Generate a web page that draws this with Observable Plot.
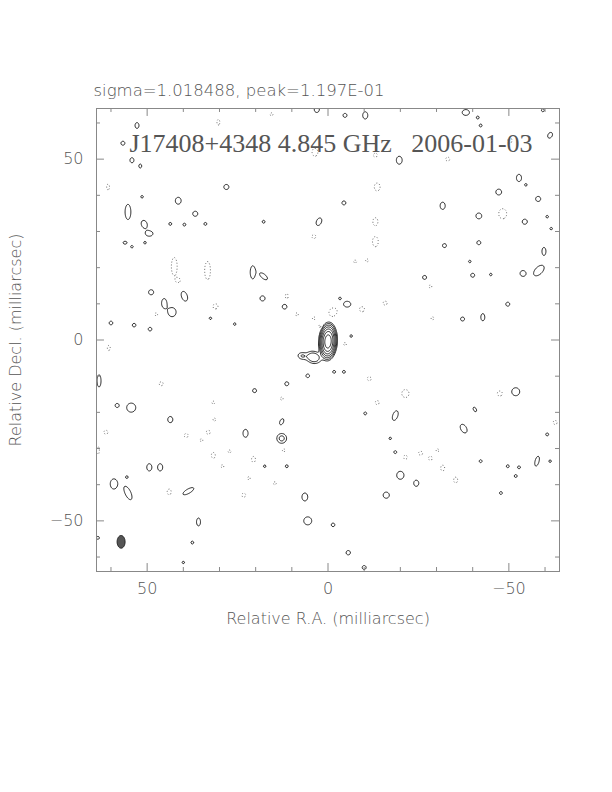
<!DOCTYPE html>
<html><head><meta charset="utf-8">
<script src="https://cdn.jsdelivr.net/npm/d3@7"></script>
<script src="https://cdn.jsdelivr.net/npm/@observablehq/plot@0.6"></script>
<style>
body{margin:0;background:#fff;}
svg text{white-space:pre;}
</style>
</head><body><div id="chart"></div>
<script>
// ---------- text ----------
const titleText = "J17408+4348 4.845 GHz   2006-01-03";
const subtitleText = "sigma=1.018488, peak=1.197E-01";
const xLabelText = "Relative R.A. (milliarcsec)";
const yLabelText = "Relative Decl. (milliarcsec)";
const majorTicks = [50, 0, -50];
const minorTicks = [60, 40, 30, 20, 10, -10, -20, -30, -40, -60];
const extent = 64;                       // map half-size, mas
const contourLevels = [1, 2, 4, 8, 16, 32, 64]; // multiples of lowest contour
const negativeLevels = [1];

// ---------- source components (mas, peak in units of lowest contour) ----------
const srcX   = [0.0, 4.0, 7.2];
const srcY   = [-0.4, -4.8, -4.4];
const srcAmp = [110, 4, 2.0];
const srcA   = [1.75, 1.3, 0.9];  // sigma along PA
const srcB   = [0.85, 1.0, 0.7];  // sigma across PA
const srcPA  = [-3, 75, 80];

// ---------- positive noise contours: centre, semi-axes (mas), PA (deg) ----------
const posX = [52.8,56.7,54.2,51.9,3.1,-4.7,-10.3,-38.1,-41.4,-42.2,-61.4,-59.4,-19.7,28.1,55.3,50.8,49.4,41.4,36.7,43.6,39.7,33.9,17.8,56.1,54.2,50.6,20.8,17.8,48.9,39.7,45.3,43.1,18.1,12.0,60.0,53.6,49.2,32.5,25.8,51.4,-52.8,-54.7,-47.2,-58.1,-4.4,-31.7,2.5,-41.7,-54.4,-60.6,-61.7,-32.2,-41.7,-59.7,-58.3,-53.9,-40.0,-45.0,-26.7,-39.2,-5.3,-3.3,-49.7,-42.8,-37.2,54.4,58.3,43.6,20.3,11.4,22.8,12.8,12.8,49.4,46.4,59.2,55.3,38.6,11.4,17.5,55.6,-51.9,-40.6,-18.6,-10.3,-37.5,-60.6,-18.6,-42.2,-49.7,-52.8,-57.8,-61.4,-51.9,-20.0,-24.4,-16.1,-47.8,-17.2,-10.0,63.3,35.8,37.5,40.0,63.6,-1.7,-4.4,5.6,-6.4,6.4,5.6,-1.4,-5.6];
const posY = [59.3,54.4,49.7,48.1,63.7,62.1,62.1,62.9,61.5,59.3,56.6,63.5,49.7,42.3,35.4,32.0,29.4,38.5,34.9,32.1,31.9,32.1,32.7,26.9,25.8,26.9,18.7,17.6,13.2,12.1,10.2,7.7,11.5,9.2,4.7,4.1,3.0,6.0,4.4,39.6,44.8,42.9,40.9,39.0,37.9,37.1,32.7,34.3,32.7,34.1,30.8,26.1,26.9,24.5,19.2,18.4,17.9,18.1,17.3,21.7,9.9,11.5,9.9,6.3,5.8,-18.7,-18.1,-22.0,-14.0,-12.1,-25.8,-22.6,-27.2,-35.2,-35.2,-39.8,-42.3,-41.8,-34.9,-34.9,-37.9,-14.3,-19.2,-20.9,-20.3,-24.5,-26.1,-31.0,-33.5,-34.9,-35.2,-33.5,-33.5,-37.6,-37.4,-39.6,-42.9,-42.3,-27.2,-62.9,-11.3,-50.3,-56.0,-61.5,-54.7,-8.8,-8.8,-9.9,1.1,-43.4,-50.0,-51.1,-58.8];
const posA = [0.8,0.55,0.7,0.55,0.8,0.55,1.0,0.8,0.4,0.4,0.85,0.4,1.1,0.7,2.1,1.1,0.7,0.95,0.7,0.4,0.4,0.4,0.4,0.4,0.35,0.35,1.8,1.3,0.7,1.4,1.25,1.25,0.7,0.65,0.5,0.5,0.5,0.35,0.35,0.35,1.0,0.35,0.8,0.7,0.55,1.0,1.1,0.8,0.7,0.35,0.35,0.55,0.55,1.1,1.8,0.8,0.55,0.35,0.55,0.35,0.8,0.35,0.55,1.0,0.55,1.25,0.55,0.85,0.55,0.55,1.1,0.9,1.35,1.0,1.0,1.4,2.0,1.7,0.4,0.35,0.35,1.1,0.7,1.4,0.4,1.3,0.4,0.4,0.4,0.4,0.4,1.4,0.35,0.4,1.1,0.85,0.85,0.4,0.35,0.55,1.7,1.1,0.4,0.35,0.4,0.4,0.4,0.5,0.35,1.1,1.1,0.5,0.6];
const posB = [0.55,0.55,0.55,0.4,0.7,0.55,0.7,1.0,0.4,0.4,0.6,0.4,0.8,0.7,0.8,0.8,1.0,0.8,0.7,0.4,0.4,0.4,0.4,0.55,0.35,0.35,0.7,0.6,0.7,0.8,0.7,1.1,0.7,0.65,0.5,0.5,0.5,0.35,0.35,0.35,0.7,0.35,0.8,0.7,0.55,0.7,0.7,0.8,0.7,0.35,0.35,0.55,0.55,0.55,1.0,0.8,0.55,0.35,0.55,0.35,1.0,0.35,0.55,0.55,0.55,1.25,0.55,0.7,0.55,0.55,0.7,0.5,1.35,0.7,0.7,1.0,0.8,0.6,0.4,0.35,0.35,1.1,0.4,0.7,0.4,0.8,0.4,0.4,0.4,0.4,0.4,0.55,0.35,0.4,1.0,0.7,0.85,0.4,0.35,0.55,0.55,0.55,0.4,0.35,0.4,0.4,0.4,0.5,0.35,0.8,1.1,0.5,0.6];
const posPA = [0,0,0,0,0,0,0,0,0,0,-30,0,0,0,0,20,0,0,0,0,0,0,0,0,0,0,0,50,0,20,0,0,0,0,0,0,0,0,0,0,0,0,0,0,0,0,-25,0,0,0,0,0,0,0,-45,0,0,0,0,0,0,0,0,0,0,0,0,0,0,0,0,-25,0,0,0,0,25,-60,0,0,0,0,30,-20,0,30,0,0,0,0,0,-15,0,0,0,0,0,0,0,0,0,0,0,0,0,0,0,0,0,0,0,0,0];
const posAmp = posX.map((_, i) => i === 72 ? 2.6 : 1.6);

// ---------- negative noise contours (drawn dotted) ----------
const negX = [60.8,42.5,33.3,41.4,31.1,47.5,-13.6,-13.1,-13.1,-48.3,-1.7,-9.4,-15.8,3.9,-28.3,-21.4,-13.6,-30.3,-28.3,-31.7,-35.3,-47.5,-62.8,-21.4,-25.6,46.1,31.7,31.4,33.1,39.2,35.0,31.7,27.2,20.6,29.2,43.9,23.3,14.7,21.9,12.8,12.2,61.4,30.3,15.6,-50.3,3.6,-13.1,-33.1,60.6,63.6,-7.5,-10.8,3.9,-28.9,8.6,2.2,-1.1,-4.7,11.4,-11.4];
const negY = [42.3,20.3,19.2,16.5,9.3,7.1,42.3,32.7,27.2,34.9,8.0,8.5,10.2,28.6,14.8,-14.8,-17.3,-30.5,-32.7,-35.4,-38.7,-14.8,-22.8,-32.4,-31.3,-12.1,-17.3,-22.0,-25.5,-26.4,-27.7,-31.9,-30.8,-33.0,-34.9,-42.0,-42.9,-39.6,-38.2,-16.2,-30.5,-25.5,60.2,62.4,55.2,51.9,51.1,50.0,-2.2,-30.5,21.7,22.0,6.0,6.0,7.1,3.8,7.4,-1.1,12.1,-10.7];
const negA = [0.8,2.5,2.5,0.55,0.7,0.4,1.1,1.1,1.4,1.4,0.7,0.7,0.55,0.55,0.4,1.1,0.55,0.4,0.55,0.8,0.8,0.7,0.55,0.55,0.55,0.55,0.4,0.4,0.55,0.55,0.4,0.8,0.4,0.8,0.4,0.8,0.55,0.4,0.4,0.4,0.4,0.55,0.8,0.4,0.8,1.1,0.55,0.55,0.7,1.1,0.4,0.4,0.4,0.4,0.4,0.4,0.8,0.4,0.7,0.55];
const negB = [0.4,0.8,0.8,0.55,0.7,0.4,0.8,0.7,0.8,1.1,0.7,0.7,0.55,0.55,0.4,1.0,0.55,0.4,0.55,0.55,0.55,0.7,0.55,0.55,0.55,0.55,0.4,0.4,0.55,0.55,0.4,0.55,0.4,0.55,0.4,0.55,0.55,0.4,0.4,0.4,0.4,0.55,0.4,0.4,0.55,0.8,0.55,0.55,0.4,0.4,0.4,0.4,0.4,0.4,0.4,0.4,0.7,0.4,0.4,0.55];
const negAmp = 1.6;

// ---------- restoring beam (FWHM semi-axes, mas) ----------
const beamX = [57.2];
const beamY = [-55.8];
const beamMaj = [1.75];
const beamMin = [1.1];
const beamPA = [0];

// ---------- tick mark lengths (mas) ----------
const majorTickLen = 2.2;
const minorTickLen = 1.1;

// ---------- build images on a grid ----------
const N = 512, step = 2 * extent / N;
function splat(g, x, y, amp, sa, sb, pa) {
  const t = pa * Math.PI / 180, s = Math.sin(t), c = Math.cos(t);
  const rad = 4.5 * Math.max(sa, sb);
  const i0 = Math.max(0, Math.floor((extent - (x + rad)) / step));
  const i1 = Math.min(N - 1, Math.ceil((extent - (x - rad)) / step));
  const j0 = Math.max(0, Math.floor((extent - (y + rad)) / step));
  const j1 = Math.min(N - 1, Math.ceil((extent - (y - rad)) / step));
  for (let j = j0; j <= j1; j++) {
    const Y = extent - (j + 0.5) * step, dy = Y - y;
    for (let i = i0; i <= i1; i++) {
      const X = extent - (i + 0.5) * step, dx = X - x;
      const u = dx * s + dy * c, v = dx * c - dy * s;
      g[j * N + i] += amp * Math.exp(-0.5 * (u * u / (sa * sa) + v * v / (sb * sb)));
    }
  }
}
const img = new Float64Array(N * N);
srcX.forEach((x, i) => splat(img, x, srcY[i], srcAmp[i], srcA[i], srcB[i], srcPA[i]));
posX.forEach((x, i) => {
  const kk = Math.sqrt(2 * Math.log(posAmp[i]));
  splat(img, x, posY[i], posAmp[i], posA[i] / kk, posB[i] / kk, posPA[i]);
});
const kn = Math.sqrt(2 * Math.log(negAmp));
negX.forEach((x, i) => splat(img, x, negY[i], -negAmp, negA[i] / kn, negB[i] / kn, 0));
const posGrid = Array.from(img);
const negGrid = posGrid.map(v => -v);
const beamImg = new Float64Array(N * N);
const kb = Math.sqrt(2 * Math.log(2));
beamX.forEach((x, i) => splat(beamImg, x, beamY[i], 1, beamMaj[i] / kb, beamMin[i] / kb, beamPA[i]));
const beamGrid = Array.from(beamImg);

const grid = {width: N, height: N, x1: extent, x2: -extent, y1: extent, y2: -extent, value: Plot.identity};
const fmt = d => d < 0 ? "\u2212" + Math.abs(d) : String(d);
const labelFont = {fontFamily: "DejaVu Sans", fontWeight: 200, fontSize: 16, fill: "#555"};
const tickColor = "#888";

function ticks(values, len) {
  return [
    Plot.ruleX(values, {x: d => d, y1: -extent, y2: -extent + len, stroke: tickColor}),
    Plot.ruleX(values, {x: d => d, y1: extent, y2: extent - len, stroke: tickColor}),
    Plot.ruleY(values, {y: d => d, x1: extent, x2: extent - len, stroke: tickColor}),
    Plot.ruleY(values, {y: d => d, x1: -extent, x2: -extent + len, stroke: tickColor})
  ];
}

const chart = Plot.plot({
  width: 612, height: 640,
  marginLeft: 96, marginRight: 53, marginTop: 108, marginBottom: 69,
  x: {domain: [extent, -extent], axis: null},
  y: {domain: [-extent, extent], axis: null},
  style: {background: "#fff", overflow: "visible"},
  marks: [
    Plot.contour(beamGrid, {...grid, thresholds: [0.5], fill: "#555", stroke: "#222", strokeWidth: 1}),
    Plot.contour(negGrid, {...grid, thresholds: negativeLevels, fill: "none", stroke: "#666", strokeWidth: 1, strokeDasharray: "1,2"}),
    Plot.contour(posGrid, {...grid, thresholds: contourLevels, fill: "none", stroke: "#111", strokeWidth: 0.9}),
    ...ticks(majorTicks, majorTickLen),
    ...ticks(minorTicks, minorTickLen),
    Plot.frame({stroke: "#888"}),
    // tick labels
    Plot.axisX(majorTicks, {anchor: "bottom", tickSize: 0, tickPadding: 11, tickFormat: fmt, label: null, ...labelFont}),
    Plot.axisY(majorTicks, {anchor: "left", tickSize: 0, tickPadding: 13, tickFormat: fmt, label: null, ...labelFont}),
    Plot.text([titleText], {text: d => d, frameAnchor: "top", dx: 3, dy: 35, lineAnchor: "middle",
      fontFamily: "Liberation Serif", fontSize: 26, fill: "#555"}),
    Plot.text([subtitleText], {text: d => d, frameAnchor: "top-left", textAnchor: "start", dx: -3, dy: -18, lineAnchor: "middle",
      ...labelFont, fontSize: 16.5}),
    Plot.text([xLabelText], {text: d => d, frameAnchor: "bottom", dy: 47, lineAnchor: "middle", ...labelFont}),
    Plot.text([yLabelText], {text: d => d, frameAnchor: "left", textAnchor: "middle", dx: -81, rotate: -90, lineAnchor: "middle", ...labelFont})
  ]
});
document.getElementById("chart").appendChild(chart);
</script>
</body></html>
